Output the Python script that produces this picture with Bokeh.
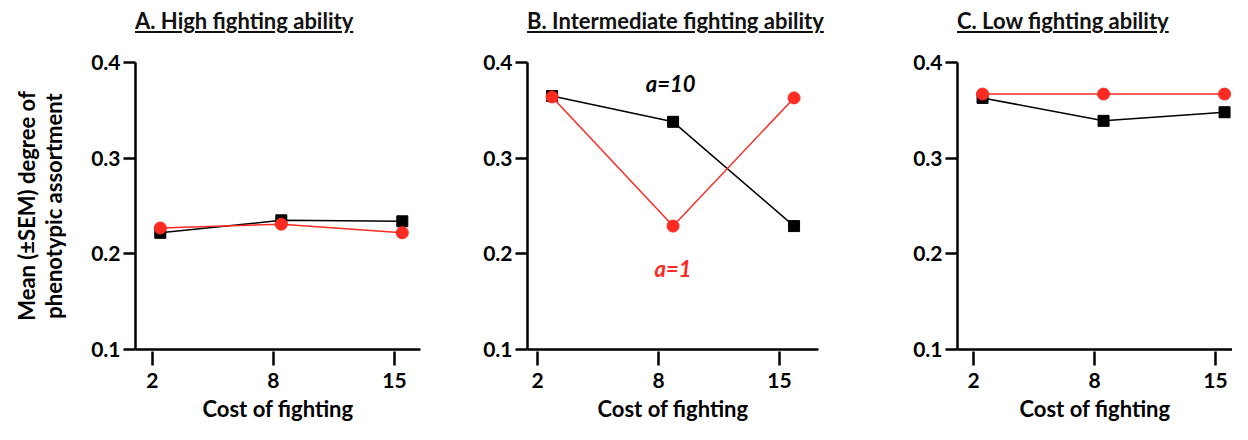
from bokeh.plotting import figure
from bokeh.models import Range1d, FixedTicker, Div, Label, ColumnDataSource, LinearAxis
from bokeh.layouts import row, column
from bokeh.transform import dodge
from bokeh.embed import file_html
from bokeh.resources import INLINE

# ---- data ----
costs = ["2", "8", "15"]
titles = ["A. High fighting ability", "B. Intermediate fighting ability", "C. Low fighting ability"]
a10_high = [0.222, 0.235, 0.234]
a1_high = [0.227, 0.231, 0.222]
a10_mid = [0.365, 0.338, 0.229]
a1_mid = [0.364, 0.229, 0.363]
a10_low = [0.363, 0.339, 0.348]
a1_low = [0.367, 0.367, 0.367]
y_ticks = [0.1, 0.2, 0.3, 0.4]
x_label = "Cost of fighting"
y_label_1 = "Mean (±SEM) degree of"
y_label_2 = "phenotypic assortment"

FONT = "Lato"
RED = "#ff2a22"
TICK_FS = "21px"
LAB_FS = "22px"
pos = list(range(len(costs)))


def style_axis(ax):
    ax.axis_line_width = 2.5
    ax.major_tick_line_width = 2.5
    ax.minor_tick_line_color = None
    ax.major_label_text_font = FONT
    ax.major_label_text_font_style = "bold"
    ax.major_label_text_font_size = TICK_FS
    ax.major_label_text_color = "black"
    ax.axis_label_text_font = FONT
    ax.axis_label_text_font_style = "bold"
    ax.axis_label_text_font_size = LAB_FS
    ax.axis_label_text_color = "black"


def make_panel(title, a10, a1, width, left, frame_w, x_start, offset, ylab=False, labels=False):
    div = Div(text="<u>%s</u>" % title, width=width, height=37, margin=(0, 0, 0, 0),
              styles={"padding-left": "%dpx" % left, "padding-top": "8px",
                      "font-family": FONT, "font-weight": "bold",
                      "font-size": LAB_FS, "color": "#111", "line-height": "26px",
                      "white-space": "nowrap"})
    span = frame_w / 121.0
    p = figure(width=width, height=387, output_backend="svg", toolbar_location=None,
               x_range=Range1d(x_start, x_start + span), y_range=Range1d(0.1, 0.4),
               min_border_left=left, min_border_right=width - left - frame_w,
               min_border_top=25, min_border_bottom=75)
    p.outline_line_color = None
    p.grid.visible = False
    src = ColumnDataSource(dict(x=pos, a10=a10, a1=a1))
    xx = dodge("x", offset)
    p.line(x=xx, y="a10", source=src, line_color="black", line_width=1.5)
    p.scatter(x=xx, y="a10", source=src, marker="square", size=11, color="black")
    p.line(x=xx, y="a1", source=src, line_color=RED, line_width=1.5)
    p.scatter(x=xx, y="a1", source=src, marker="circle", size=12, color=RED)

    style_axis(p.xaxis[0])
    style_axis(p.yaxis[0])
    p.xaxis.ticker = FixedTicker(ticks=pos)
    p.xaxis.major_label_overrides = {i: c for i, c in enumerate(costs)}
    p.xaxis.major_tick_in = -2
    p.xaxis.major_tick_out = 16
    p.xaxis.major_label_standoff = 7
    p.xaxis.axis_label = x_label
    p.xaxis.axis_label_standoff = 4
    p.yaxis.ticker = FixedTicker(ticks=y_ticks)
    p.yaxis.major_tick_in = 0
    p.yaxis.major_tick_out = 12
    p.yaxis.major_label_standoff = 3
    if ylab:
        p.yaxis.axis_label = y_label_2
        p.yaxis.axis_label_standoff = 21
        extra = LinearAxis(ticker=FixedTicker(ticks=[]), axis_label=y_label_1)
        style_axis(extra)
        extra.axis_line_color = None
        extra.major_tick_out = 0
        extra.major_tick_in = 0
        extra.axis_label_standoff = -2
        p.add_layout(extra, "left")
    if labels:
        p.add_layout(Label(x=1.1, y=0.378, text="a=10", text_align="center", text_baseline="middle",
                           text_font=FONT, text_font_style="bold italic", text_font_size=LAB_FS,
                           text_color="black"))
        p.add_layout(Label(x=1.12, y=0.185, text="a=1", text_align="center", text_baseline="middle",
                           text_font=FONT, text_font_style="bold italic", text_font_size=LAB_FS,
                           text_color=RED))
    return column(div, p, spacing=0)


pa = make_panel(titles[0], a10_high, a1_high, 475, 135, 285, -0.14, 0.065, ylab=True)
pb = make_panel(titles[1], a10_mid, a1_mid, 430, 52, 291, -0.083, 0.12, labels=True)
pc = make_panel(titles[2], a10_low, a1_low, 327, 52, 275, -0.132, 0.075)

layout = row(pa, pb, pc, spacing=0)
open("out.html", "w").write(file_html(layout, INLINE))
